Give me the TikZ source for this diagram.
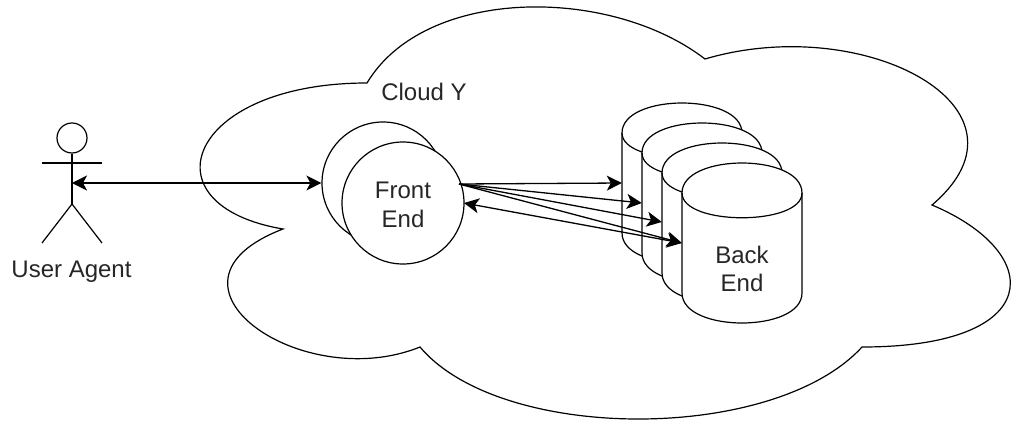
\documentclass[tikz,border=0pt]{standalone}
\usepackage{fontspec}
\setmainfont{Liberation Sans}
\usetikzlibrary{arrows.meta}
\tikzset{
    label/.style={align=center,text=black!85,font=\fontsize{24}{28.5}\selectfont},
    outline/.style={line width=1.2pt},
    frontend/.style={circle,draw,fill=white,outline,minimum size=122pt,inner sep=0pt},
    backend/.style={rectangle,minimum width=120pt,minimum height=160pt,inner sep=0pt},
    link/.style={line width=1.3pt,-{Stealth[length=15pt,width=15pt,inset=4pt]}},
    duplex/.style={line width=1.3pt,{Stealth[length=15pt,width=15pt,inset=4pt]}-{Stealth[length=15pt,width=15pt,inset=4pt]}},
}
\begin{document}
\begin{tikzpicture}[x=1pt,y=-1pt]
    \useasboundingbox (0,0) rectangle (1011,423);
    % cloud
    \draw [outline] (367,83) .. controls (188,83) and (142,205) .. (283,229)
        .. controls (142,283) and (301,395) .. (420,347)
        .. controls (501,443) and (774,443) .. (862,347)
        .. controls (1046,347) and (1046,253) .. (932,205)
        .. controls (1046,108) and (864,12) .. (705,59)
        .. controls (610,-14) and (425,-14) .. (367,83) -- cycle;
    \node [label] (cloudname) at (424,92) {Cloud Y};
    % user agent
    \node [circle,draw,outline,minimum size=30pt,inner sep=0pt] (head) at (72,138) {};
    \coordinate (armL) at (42,163);
    \coordinate (armR) at (102,163);
    \coordinate (hip) at (72,204);
    \coordinate (footL) at (42,243);
    \coordinate (footR) at (102,243);
    \coordinate (hand) at (72,183);
    \draw [outline] (head) -- (hip);
    \draw [outline] (armL) -- (armR);
    \draw [outline] (footL) -- (hip) -- (footR);
    \node [label] (useragent) at (71.5,272) {User Agent};
    % front end
    \node [frontend] (fe2) at (383,183) {};
    \node [frontend] (fe1) at (403,203) {};
    \node [label] (fetext) at ([yshift=-2pt]fe1.center) {Front\\End};
    % back end
    \foreach \n/\x/\y in {4/622/103,3/642/123,2/662/143,1/682/163}{
        \draw [outline,fill=white] (\x,\y+30) .. controls (\x,\y-10) and (\x+120,\y-10) .. (\x+120,\y+30)
            -- (\x+120,\y+130) .. controls (\x+120,\y+170) and (\x,\y+170) .. (\x,\y+130) -- cycle;
        \draw [outline] (\x,\y+30) .. controls (\x,\y+63) and (\x+120,\y+63) .. (\x+120,\y+30);
        \node [backend] (be\n) at (\x+60,\y+80) {};
    }
    \node [label] (betext) at ([yshift=-26pt]be1.center) {Back\\End};
    % links
    \coordinate (feout) at (459,184);
    \coordinate (fein) at (464,203);
    \coordinate (t4) at (be4.west |- 0,183);
    \coordinate (t3) at (be3.west |- 0,203);
    \coordinate (t2) at (be2.west |- 0,222);
    \coordinate (t1) at (be1.west |- 0,243);
    \draw [duplex] (hand) -- (fe2.west);
    \foreach \t in {t4,t3,t2,t1}
        \draw [link] (feout) -- (\t);
    \draw [duplex] (fein) -- (t1);
\end{tikzpicture}
\end{document}
